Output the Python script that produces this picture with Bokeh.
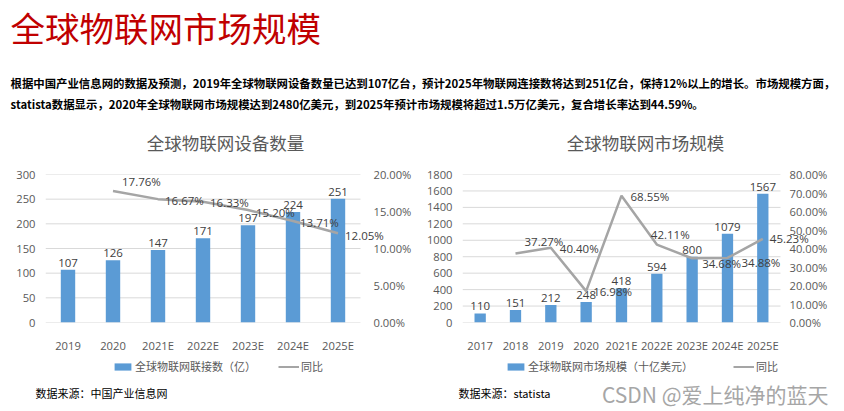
from bokeh.plotting import figure
from bokeh.models import (ColumnDataSource, Range1d, LinearAxis, Label, Legend, LegendItem,
                          FixedTicker, NumeralTickFormatter)
from bokeh.layouts import column, row
from bokeh.embed import file_html
from bokeh.resources import INLINE
from bokeh.core.properties import value

# ---------------- data ----------------
page_title = "全球物联网市场规模"
para_line1 = "根据中国产业信息网的数据及预测，2019年全球物联网设备数量已达到107亿台，预计2025年物联网连接数将达到251亿台，保持12%以上的增长。市场规模方面，"
para_line2 = "statista数据显示，2020年全球物联网市场规模达到2480亿美元，到2025年预计市场规模将超过1.5万亿美元，复合增长率达到44.59%。"

dev_title = "全球物联网设备数量"
dev_years = ["2019", "2020", "2021E", "2022E", "2023E", "2024E", "2025E"]
dev_counts = [107, 126, 147, 171, 197, 224, 251]
dev_yoy = [None, 0.1776, 0.1667, 0.1633, 0.1520, 0.1371, 0.1205]
dev_bar_name = "全球物联网联接数（亿）"
dev_source = "数据来源：中国产业信息网"
dev_yticks = [0, 50, 100, 150, 200, 250, 300]
dev_pticks = [0, 0.05, 0.10, 0.15, 0.20]

mkt_title = "全球物联网市场规模"
mkt_years = ["2017", "2018", "2019", "2020", "2021E", "2022E", "2023E", "2024E", "2025E"]
mkt_size = [110, 151, 212, 248, 418, 594, 800, 1079, 1567]
mkt_yoy = [None, 0.3727, 0.4040, 0.1698, 0.6855, 0.4211, 0.3468, 0.3488, 0.4523]
mkt_bar_name = "全球物联网市场规模（十亿美元）"
mkt_source = "数据来源：statista"
mkt_yticks = [0, 200, 400, 600, 800, 1000, 1200, 1400, 1600, 1800]
mkt_pticks = [0, 0.1, 0.2, 0.3, 0.4, 0.5, 0.6, 0.7, 0.8]

line_name = "同比"
watermark = "CSDN @爱上纯净的蓝天"

# label placement (pixels) for the YoY labels
dev_dx = [0, 9, 7, 7, 8, 7, 7]
dev_dy = [0, -10, 1, 1, 2, 1, 2]
mkt_dx = [0, 9, 9, 7, 9, -6, 10, 14, 7]
mkt_dy = [0, -12, 1, 0, 1, -10, 5, 5, 0]

CJK = "Noto Sans CJK SC"
NUM = "Open Sans"
BLUE = "#5b9bd5"
GRAY_LINE = "#a5a5a5"
AXIS_TXT = "#595959"
DATA_TXT = "#404040"
GRID = "#d9d9d9"
NAN = float("nan")


def fmt_pct(v):
    return f"{v*100:.2f}%"


def make_chart(cats, bars, yoy, yticks, pticks, dx, dy, width,
               border_left, border_right, x_end, right_standoff):
    n = len(cats)
    xs = [i + 0.5 for i in range(n)]
    p = figure(width=width, height=197, x_range=Range1d(0, x_end),
               y_range=Range1d(0, yticks[-1]), output_backend="svg", toolbar_location=None,
               min_border_left=border_left, min_border_right=border_right,
               min_border_top=16, min_border_bottom=27)
    p.outline_line_color = None
    p.xgrid.grid_line_color = None
    p.ygrid.grid_line_color = None
    p.yaxis.ticker = FixedTicker(ticks=yticks)
    p.xaxis.ticker = FixedTicker(ticks=xs)
    p.xaxis.major_label_overrides = {x: c for x, c in zip(xs, cats)}

    p.extra_y_ranges = {"pct": Range1d(0, pticks[-1])}
    ax2 = LinearAxis(y_range_name="pct", ticker=FixedTicker(ticks=pticks),
                     formatter=NumeralTickFormatter(format="0.00%"))
    p.add_layout(ax2, "right")

    for ax in [p.xaxis[0], p.yaxis[0], ax2]:
        ax.axis_line_color = None
        ax.major_tick_line_color = None
        ax.minor_tick_line_color = None
        ax.major_label_text_color = AXIS_TXT
        ax.major_label_text_font = NUM
        ax.major_label_text_font_size = "11.2px"
    p.xaxis.major_label_standoff = 9
    p.yaxis.major_label_standoff = 4
    ax2.major_label_standoff = right_standoff

    # horizontal gridlines across the category area
    p.segment(x0=[0] * len(yticks), x1=[n] * len(yticks), y0=yticks, y1=yticks,
              line_color=GRID, line_width=1)

    src = ColumnDataSource(dict(x=xs, v=bars, vl=[str(b) for b in bars]))
    p.vbar(x="x", top="v", width=0.32, source=src, fill_color=BLUE, line_color=None)
    p.text(x="x", y="v", text="vl", source=src, text_align="center", text_baseline="bottom",
           y_offset=-3, text_color=DATA_TXT, text_font=value(NUM), text_font_size="11.5px")

    keep = [i for i, v in enumerate(yoy) if v is not None]
    lsrc = ColumnDataSource(dict(x=[xs[i] for i in keep], y=[yoy[i] for i in keep],
                                 t=[fmt_pct(yoy[i]) for i in keep],
                                 dx=[dx[i] for i in keep], dy=[dy[i] for i in keep]))
    p.line(x="x", y="y", source=lsrc, y_range_name="pct", line_color=GRAY_LINE, line_width=2.5)
    p.text(x="x", y="y", text="t", source=lsrc, y_range_name="pct", x_offset="dx", y_offset="dy",
           text_align="left", text_baseline="middle", text_color=DATA_TXT,
           text_font=value(NUM), text_font_size="11.5px")
    return p


# ---------------- header ----------------
top = figure(width=844, height=158, x_range=Range1d(0, 844), y_range=Range1d(0, 158),
             output_backend="svg", toolbar_location=None, min_border=0)
top.axis.visible = False
top.grid.visible = False
top.outline_line_color = None
top.add_layout(Label(x=10, y=157, x_units="screen", y_units="screen", text=page_title,
                     text_align="left", text_baseline="top", text_font=CJK,
                     text_font_size="34.5px", text_color="#c00000"))
top.add_layout(Label(x=10, y=76, x_units="screen", y_units="screen", text=para_line1,
                     text_align="left", text_baseline="middle", text_font=CJK,
                     text_font_size="11.4px", text_font_style="bold", text_color="#000000"))
top.add_layout(Label(x=10, y=55, x_units="screen", y_units="screen", text=para_line2,
                     text_align="left", text_baseline="middle", text_font=CJK,
                     text_font_size="11.4px", text_font_style="bold", text_color="#000000"))
for t, cx in [(dev_title, 225), (mkt_title, 645)]:
    top.add_layout(Label(x=cx, y=16, x_units="screen", y_units="screen", text=t,
                         text_align="center", text_baseline="middle", text_font=CJK,
                         text_font_size="17.5px", text_color=AXIS_TXT))

# ---------------- charts ----------------
left = make_chart(dev_years, dev_counts, dev_yoy, dev_yticks, dev_pticks, dev_dx, dev_dy,
                  422, 45, 30, 347 / 45, -25)
right = make_chart(mkt_years, mkt_size, mkt_yoy, mkt_yticks, mkt_pticks, mkt_dx, mkt_dy,
                   422, 40, 34, 348 / 35.33, -27)

# ---------------- footer: legends, sources, watermark ----------------
foot = figure(width=844, height=56, x_range=Range1d(0, 844), y_range=Range1d(0, 56),
              output_backend="svg", toolbar_location=None, min_border=0)
foot.axis.visible = False
foot.grid.visible = False
foot.outline_line_color = None


def add_legend(bar_name, loc, spacing):
    # legend swatches: renderers styled like the chart series (no visible data of their own)
    rb = foot.vbar(x=[NAN], top=[NAN], width=1, fill_color=BLUE, line_color=None)
    rl = foot.line(x=[NAN], y=[NAN], line_color=GRAY_LINE, line_width=2)
    lg = Legend(items=[LegendItem(label=bar_name, renderers=[rb]),
                       LegendItem(label=line_name, renderers=[rl])],
                location=loc, orientation="horizontal",
                glyph_width=21, glyph_height=9, label_standoff=2, spacing=spacing,
                padding=0, margin=0, border_line_color=None, background_fill_alpha=0,
                label_text_font=CJK, label_text_font_size="11px", label_text_color=AXIS_TXT,
                label_height=14)
    foot.add_layout(lg, "center")


add_legend(dev_bar_name, (112, 37), 22)
add_legend(mkt_bar_name, (505, 37), 40)

foot.add_layout(Label(x=35, y=19, x_units="screen", y_units="screen", text=dev_source,
                      text_align="left", text_baseline="middle", text_font=CJK,
                      text_font_size="11px", text_color="#000000"))
foot.add_layout(Label(x=458, y=19, x_units="screen", y_units="screen", text=mkt_source,
                      text_align="left", text_baseline="middle", text_font=CJK,
                      text_font_size="11px", text_color="#000000"))
foot.add_layout(Label(x=828, y=18, x_units="screen", y_units="screen", text=watermark,
                      text_align="right", text_baseline="middle", text_font=CJK,
                      text_font_size="21px", text_color="#a6a6a6"))

page = column(top, row(left, right, spacing=0), foot, spacing=0)
open("out.html", "w").write(file_html(page, INLINE))
